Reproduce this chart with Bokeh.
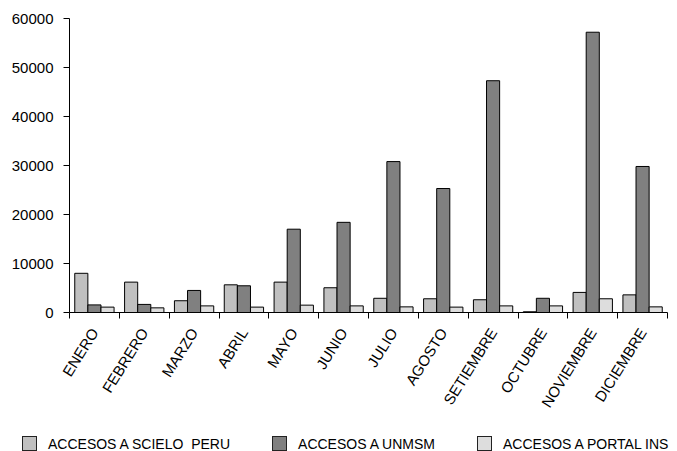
import math
from bokeh.plotting import figure
from bokeh.layouts import column
from bokeh.models import (ColumnDataSource, Range1d, FixedTicker, NumeralTickFormatter, Div)
from bokeh.transform import dodge
from bokeh.embed import file_html
from bokeh.resources import INLINE

months = ["ENERO", "FEBRERO", "MARZO", "ABRIL", "MAYO", "JUNIO", "JULIO",
          "AGOSTO", "SETIEMBRE", "OCTUBRE", "NOVIEMBRE", "DICIEMBRE"]
scielo = [8000, 6200, 2400, 5650, 6200, 5050, 2900, 2800, 2600, 150, 4100, 3600]
unmsm = [1550, 1650, 4500, 5450, 17000, 18400, 30800, 25300, 47300, 2900, 57200, 29800]
portal = [1100, 950, 1350, 1100, 1500, 1350, 1150, 1100, 1350, 1350, 2800, 1150]
series_names = ["ACCESOS A SCIELO  PERU", "ACCESOS A UNMSM", "ACCESOS A PORTAL INS"]
series_colors = ["#C0C0C0", "#808080", "#DDDDDD"]
y_ticks = [0, 10000, 20000, 30000, 40000, 50000, 60000]

pos = [i + 0.5 for i in range(len(months))]
src = ColumnDataSource(dict(x=pos, scielo=scielo, unmsm=unmsm, portal=portal))

FONT = "Liberation Sans"
FS = "15px"
LFS = "14px"

p = figure(width=677, height=431, output_backend="svg", toolbar_location=None,
           x_range=Range1d(0, len(months)), y_range=Range1d(0, 60000),
           min_border_left=69, min_border_right=10, min_border_top=18, min_border_bottom=119)
p.outline_line_color = None
p.xgrid.visible = False
p.ygrid.visible = False

bw = 0.263
for k, (col, color) in enumerate(zip(["scielo", "unmsm", "portal"], series_colors)):
    p.vbar(x=dodge("x", (k - 1) * bw, range=p.x_range), top=col, width=bw, source=src,
           fill_color=color, line_color="black", line_width=1)

# x axis
xa = p.xaxis[0]
xa.ticker = FixedTicker(ticks=pos, minor_ticks=list(range(len(months) + 1)))
xa.major_label_overrides = {pp: m for pp, m in zip(pos, months)}
xa.major_tick_out = 0
xa.major_tick_in = 0
xa.minor_tick_out = 6
xa.minor_tick_in = 0
xa.minor_tick_line_color = "black"
xa.axis_line_color = "black"
xa.major_label_orientation = math.radians(58)
xa.major_label_standoff = 11
xa.major_label_text_font = FONT
xa.major_label_text_font_size = FS
xa.major_label_text_color = "black"

# y axis
ya = p.yaxis[0]
ya.ticker = FixedTicker(ticks=y_ticks)
ya.formatter = NumeralTickFormatter(format="0")
ya.major_tick_out = 6
ya.major_tick_in = 0
ya.minor_tick_out = 0
ya.minor_tick_in = 0
ya.major_tick_line_color = "black"
ya.axis_line_color = "black"
ya.major_label_standoff = 10
ya.major_label_text_font = FONT
ya.major_label_text_font_size = FS
ya.major_label_text_color = "black"

# legend strip
parts = []
for i, (name, color) in enumerate(zip(series_names, series_colors)):
    gap = 22 if i == 0 else 42
    parts.append(
        f'<span style="display:inline-block;box-sizing:border-box;width:15px;height:15px;'
        f'border:1px solid #222;background:{color};margin-left:{gap}px;"></span>'
        f'<span style="margin-left:11px;">{name.replace("  ", "&nbsp; ")}</span>'
    )
html = (f'<div style="display:flex;align-items:center;height:15px;margin-top:5px;'
        f'font-family:\'{FONT}\';font-size:{LFS};color:black;white-space:nowrap;">'
        + "".join(parts) + "</div>")
leg = Div(text=html, width=677, height=20, margin=0, styles={"overflow": "hidden"})

open("out.html", "w").write(file_html(column(p, leg, spacing=0), INLINE))
